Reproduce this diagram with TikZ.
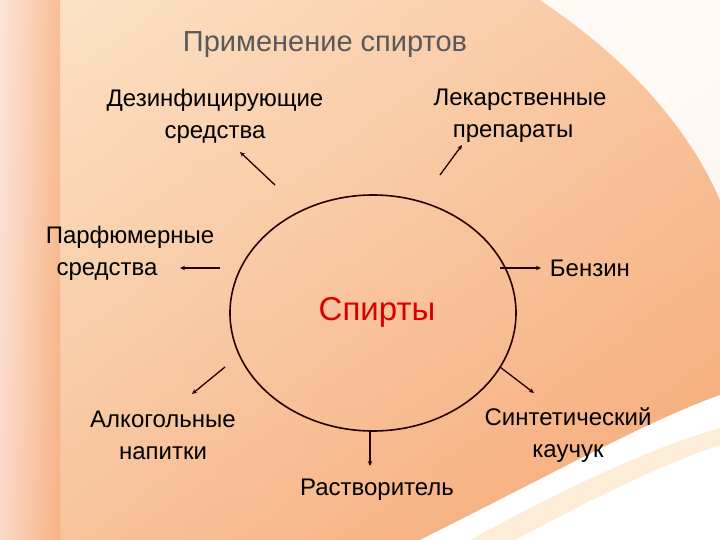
\documentclass[tikz,border=0pt]{standalone}
\usepackage{fontspec}
\setmainfont{Liberation Sans}
\usetikzlibrary{arrows.meta}
\definecolor{orng}{RGB}{246,168,118}
\definecolor{lightor}{RGB}{250,210,165}
\definecolor{peach}{RGB}{252,228,200}
\begin{document}
\begin{tikzpicture}[x=1pt,y=-1pt,
  lbl/.style={font=\fontsize{24}{32}\selectfont, align=center, text=black},
  conn/.style={draw=black!85!red, line width=1.3pt, -{Stealth[length=5pt,width=4.5pt]}}]
\useasboundingbox (0,0) rectangle (720,540);
\shade[left color=peach, right color=orng] (0,0) rectangle (720,540);
\shade[top color=lightor!60!white, bottom color=orng, opacity=0.5] (0,0) rectangle (720,540);
\shade[left color=white!60!pink, right color=orng, opacity=0.6] (0,0) rectangle (60,540);
\fill[white, opacity=0.9] (720,0) -- (540,0) .. controls (630,60) and (690,130) .. (720,200) -- cycle;
\fill[white] (420,540) .. controls (560,470) and (650,420) .. (720,395) -- (720,540) -- cycle;
\fill[peach, opacity=0.7] (470,540) .. controls (580,480) and (660,445) .. (720,428) -- (720,445) .. controls (660,465) and (590,500) .. (515,540) -- cycle;
\node[font=\fontsize{29}{32}\selectfont, text=black!65] (title) at (325,45) {Применение спиртов};
\draw[line width=1.6pt, draw=black!85!red] (373,313) ellipse [x radius=143, y radius=118];
\node[font=\fontsize{33}{36}\selectfont, text=red!85!black] (sp) at (377,312) {Спирты};
\node[lbl] (dez) at (215,116) {Дезинфицирующие\\средства};
\node[lbl] (lek) at (520,116) {Лекарственные\\\hspace*{-14pt}препараты};
\node[lbl] (par) at (130,253) {Парфюмерные\\\hspace*{-46pt}средства};
\node[lbl] (ben) at (590,268) {Бензин};
\node[lbl] (alk) at (163,435) {Алкогольные\\напитки};
\node[lbl] (syn) at (568,435) {Синтетический\\каучук};
\node[lbl] (rast) at (377,490) {Растворитель};
\coordinate (a1) at (275,185); \coordinate (b1) at (240,152);
\coordinate (a2) at (440,175); \coordinate (b2) at (462,145);
\coordinate (a3) at (220,268); \coordinate (b3) at (180,268);
\coordinate (a4) at (500,268); \coordinate (b4) at (541,268);
\coordinate (a5) at (225,367); \coordinate (b5) at (192,394);
\coordinate (a6) at (500,367); \coordinate (b6) at (534,393);
\coordinate (a7) at (370,432); \coordinate (b7) at (370,466);
\foreach \i in {1,...,7} \draw[conn] (a\i) -- (b\i);
\end{tikzpicture}
\end{document}
